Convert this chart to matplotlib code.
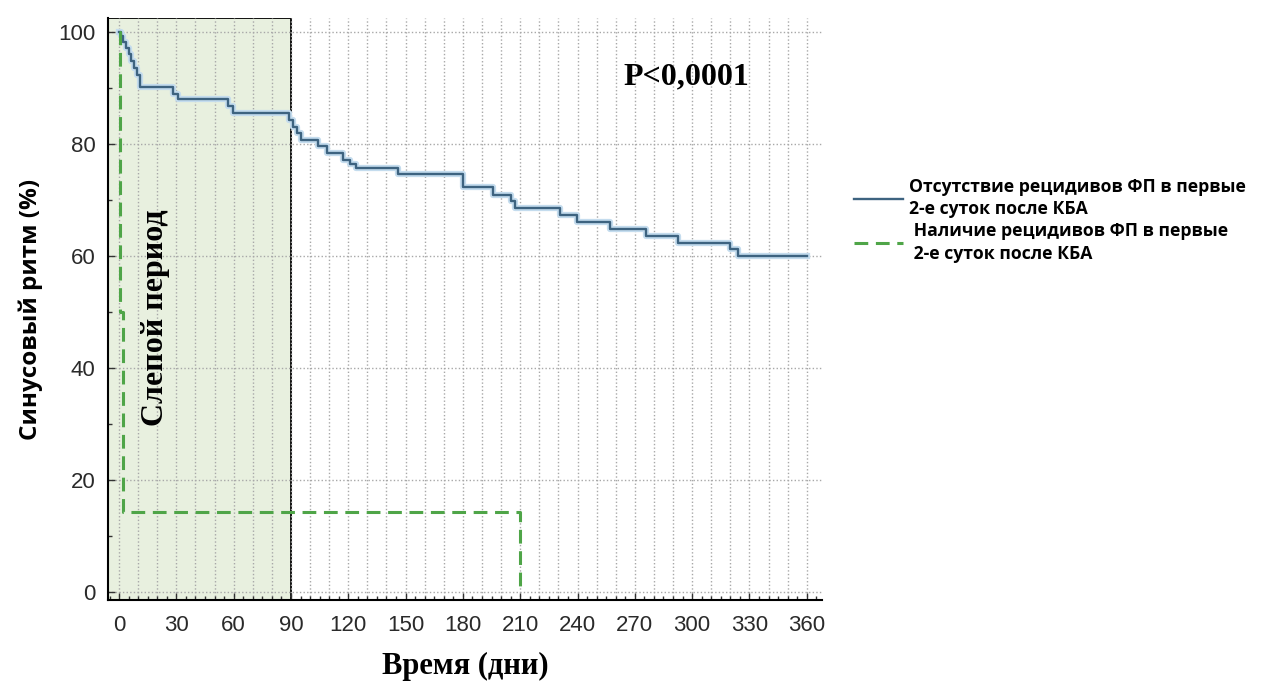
import numpy as np
import matplotlib.pyplot as plt
from matplotlib.patches import Rectangle
from matplotlib.ticker import MultipleLocator

# Kaplan-Meier style step data (days, % sinus rhythm)
days_no_af = [0, 1, 2, 3.5, 5, 6.5, 8, 9.5, 11, 28, 31, 57, 59.5, 89, 91, 93, 95,
              104, 109, 117, 121, 124, 146, 180, 196, 205, 207.5, 231, 239.5,
              257, 276, 292.5, 320, 324, 360]
sr_no_af = [100, 99.2, 98.2, 97.1, 96.0, 94.8, 93.6, 92.4, 90.2, 89.0, 88.0, 86.8, 85.5,
            84.3, 83.1, 81.9, 80.7, 79.6, 78.4, 77.2, 76.5, 75.7, 74.6, 72.3, 70.9,
            69.8, 68.6, 67.3, 66.1, 64.8, 63.6, 62.3, 61.2, 60.0, 60.0]

days_af = [0, 0.5, 2, 210, 210]
sr_af = [100, 50, 14.3, 14.3, 0]

xticks = [0, 30, 60, 90, 120, 150, 180, 210, 240, 270, 300, 330, 360]
yticks = [0, 20, 40, 60, 80, 100]
blind_end = 90

label_no_af = "Отсутствие рецидивов ФП в первые\n2-е суток после КБА"
label_af = " Наличие рецидивов ФП в первые\n 2-е суток после КБА"

fig = plt.figure(figsize=(12.68, 6.86), dpi=100)
ax = fig.add_axes([108 / 1268, 86 / 686, (822 - 108) / 1268, (600 - 18) / 686])

xmin, xmax = -5.8, 368
ymin, ymax = -1.4, 102.5
ax.set_xlim(xmin, xmax)
ax.set_ylim(ymin, ymax)

# blind period
ax.add_patch(Rectangle((xmin, ymin), blind_end - xmin, ymax - ymin,
                       facecolor="#e8f0df", edgecolor="black", lw=1.3, zorder=0.5))

# grid
ax.xaxis.set_minor_locator(MultipleLocator(5))
ax.yaxis.set_minor_locator(MultipleLocator(10))
for gx in np.arange(0, 370, 10):
    ax.axvline(gx, color="#a8a8a8", ls=(0, (1, 1.6)), lw=1, zorder=1)
for gy in yticks:
    ax.axhline(gy, color="#a8a8a8", ls=(0, (1, 1.6)), lw=1, zorder=1)

# curves
ax.step(days_no_af, sr_no_af, where="post", color="#c4dcee", lw=4.5, zorder=2)
ax.step(days_no_af, sr_no_af, where="post", color="#3d6380", lw=1.7, zorder=3,
        label=label_no_af)
ax.step(days_af, sr_af, where="post", color="#4fa548", lw=2.2, ls=(0, (4.5, 2.5)),
        zorder=3, label=label_af)

ax.set_xticks(xticks)
ax.set_yticks(yticks)
ax.tick_params(which="both", direction="in", length=5, width=1, color="#333333")
ax.tick_params(which="minor", length=3)
ax.tick_params(axis="x", pad=11)
ax.tick_params(axis="y", pad=9)
for lab in ax.get_xticklabels() + ax.get_yticklabels():
    lab.set_family("Liberation Sans")
    lab.set_fontsize(16)
    lab.set_color("#2a2a2a")

for side in ["top", "right"]:
    ax.spines[side].set_visible(False)
for side in ["left", "bottom"]:
    ax.spines[side].set_linewidth(1.5)

ax.set_xlabel("Время (дни)", family="Liberation Serif", fontsize=22,
              fontweight="bold", labelpad=11)
ax.set_ylabel("Синусовый ритм (%)", family="Open Sans", fontsize=17.5,
              fontweight="bold", labelpad=11)

ax.text(297, 92, "P<0,0001", family="Liberation Serif", fontsize=23,
        fontweight="bold", ha="center", va="center")
ax.text(19, 49, "Слепой период", family="Liberation Serif", fontsize=23,
        fontweight="bold", rotation=90, ha="center", va="center")

leg = ax.legend(loc="upper left", bbox_to_anchor=(838 / 1268, 1 - 162 / 686),
                bbox_transform=fig.transFigure, frameon=False, handlelength=2.8,
                handletextpad=0.3, labelspacing=0.25,
                prop={"family": "Open Sans", "weight": "bold", "size": 12.7})
for t in leg.get_texts():
    t.set_linespacing(1.3)

fig.savefig("out.png", dpi=100)
